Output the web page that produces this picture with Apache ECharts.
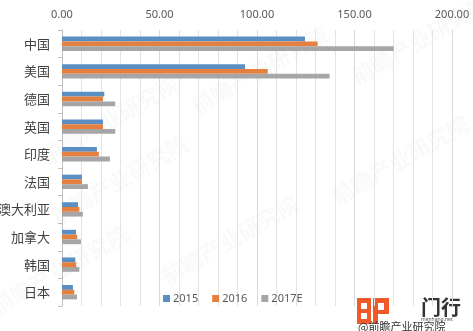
<!DOCTYPE html>
<html>
<head>
<meta charset="utf-8">
<script src="https://cdn.jsdelivr.net/npm/echarts@6/dist/echarts.min.js"></script>
<style>html,body{margin:0;padding:0;background:#fff;}#c{width:473px;height:331px;}</style>
</head>
<body>
<div id="c"></div>
<script>
const categories = ['中国','美国','德国','英国','印度','法国','澳大利亚','加拿大','韩国','日本'];
const seriesNames = ['2015','2016','2017E'];
const v2015 = [124.6, 93.9, 21.7, 21.0, 17.9, 10.2, 8.2, 7.2, 6.8, 5.6];
const v2016 = [131.1, 105.5, 21.0, 21.0, 18.9, 10.2, 8.9, 7.8, 7.3, 6.3];
const v2017E = [170.1, 137.2, 27.3, 27.3, 24.6, 13.3, 10.7, 9.7, 8.9, 7.7];
const colors = ['#5b8fc4', '#e5803f', '#a6a6a6'];

const chart = echarts.init(document.getElementById('c'));
const wm = [];
[[110,120],[260,70],[230,240],[420,40],[400,160],[60,270],[120,180]].forEach(p => {
  wm.push({type:'text', x:p[0], y:p[1], rotation:Math.PI/6, silent:true, z:-10,
    style:{text:'前瞻产业研究院', fill:'rgba(170,170,170,0.07)', font:'bold 22px "Noto Sans CJK SC"', align:'center', verticalAlign:'middle'}});
});
chart.setOption({
  animation:false,
  color: colors,
  grid: {left:62, right:21, top:30, bottom:25, containLabel:false, outerBoundsMode:'none'},
  legend: {
    data: seriesNames, left:158, top:288, itemWidth:7, itemHeight:7, itemGap:14, icon:'rect',
    textStyle:{color:'#595959', fontSize:11, fontFamily:'"Noto Sans", sans-serif', padding:[0,0,0,-2]}
  },
  xAxis: {
    type:'value', position:'top', min:0, max:200, interval:50,
    axisLine:{show:false}, axisTick:{show:false},
    axisLabel:{formatter: v => v.toFixed(2), color:'#595959', fontSize:11, fontFamily:'"Noto Sans", sans-serif', margin:10},
    splitLine:{show:true, lineStyle:{color:'#d9d9d9', width:1}},
    minorTick:{show:false, splitNumber:5},
    minorSplitLine:{show:true, lineStyle:{color:'#e3e3e3', width:1}}
  },
  yAxis: {
    type:'category', data:categories, inverse:true,
    axisLine:{show:true, lineStyle:{color:'#bfbfbf'}},
    axisTick:{show:true, length:4, lineStyle:{color:'#bfbfbf'}},
    axisLabel:{color:'#404040', fontSize:13, fontFamily:'"Noto Sans CJK SC", sans-serif', margin:12}
  },
  series: [
    {name:seriesNames[0], type:'bar', data:v2015, barGap:'0%', barCategoryGap:'48%'},
    {name:seriesNames[1], type:'bar', data:v2016, barGap:'0%', barCategoryGap:'48%'},
    {name:seriesNames[2], type:'bar', data:v2017E, barGap:'0%', barCategoryGap:'48%'}
  ],
  graphic: wm.concat([
    {type:'rect', shape:{x:357, y:298, width:14, height:26}, style:{fill:'#f05a28'}},
    {type:'rect', shape:{x:373, y:298, width:16, height:26}, style:{fill:'#f05a28'}},
    {type:'rect', shape:{x:361, y:303, width:6, height:6}, style:{fill:'#fff'}},
    {type:'rect', shape:{x:361, y:313, width:6, height:6}, style:{fill:'#fff'}},
    {type:'rect', shape:{x:378, y:303, width:6, height:7}, style:{fill:'#fff'}},
    {type:'rect', shape:{x:378, y:314, width:11, height:10}, style:{fill:'#fff'}},
    {type:'text', x:421, y:297, style:{text:'门行', fill:'#333', font:'bold 20px "Noto Sans CJK SC"'}},
    {type:'text', x:421, y:317, style:{text:'menhang.net', fill:'#555', font:'5px "Noto Sans"'}},
    {type:'text', x:358, y:321, style:{text:'@前瞻产业研究院', fill:'#333', font:'11px "Noto Sans CJK SC"'}}
  ])
});
</script>
</body>
</html>
